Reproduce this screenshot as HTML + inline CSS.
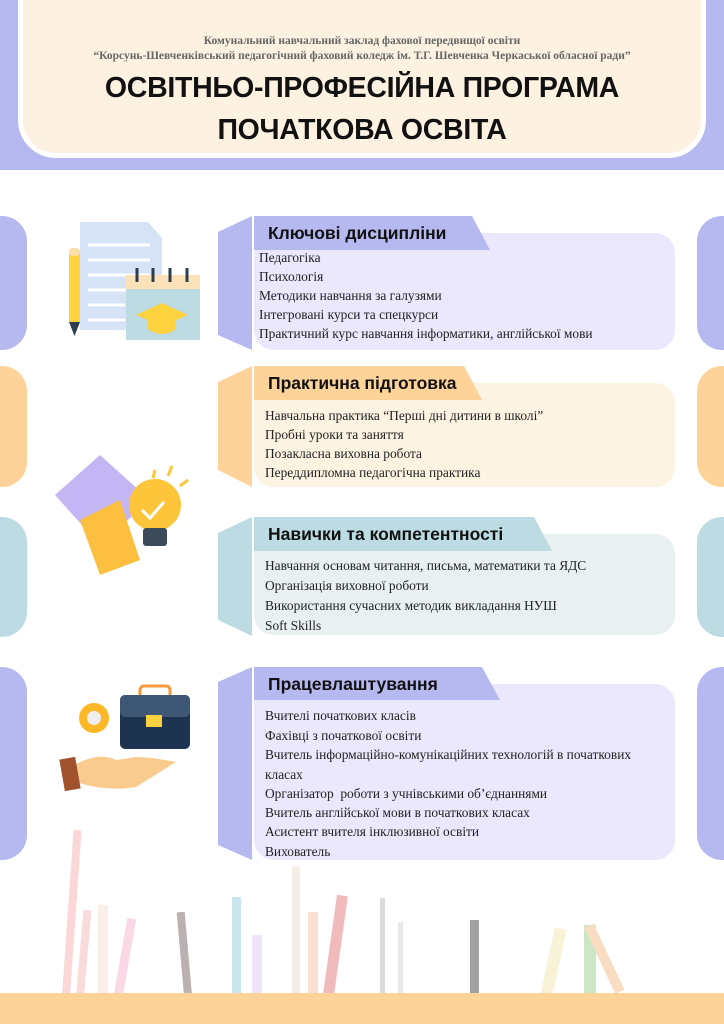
<!DOCTYPE html>
<html><head><meta charset="utf-8"><style>
*{margin:0;padding:0;box-sizing:border-box}
body{width:724px;height:1024px;position:relative;background:#fff;overflow:hidden;font-family:"Liberation Serif",serif}
.a{position:absolute}
.hd{font-family:"Liberation Sans",sans-serif;font-weight:bold;color:#111}
.it{position:absolute;font-size:13.4px;color:#222;white-space:nowrap;line-height:14px}
.tab{position:absolute;font-family:"Liberation Sans",sans-serif;font-weight:bold;font-size:17.5px;color:#111;padding-left:12px;line-height:34px}
</style></head><body>
<div class="a" style="left:0;top:0;width:724px;height:170px;background:#b6b8f0"></div>
<div class="a" style="left:18px;top:-10px;width:688px;height:168px;background:#fdf2e2;border:5px solid #fff;border-radius:0 0 38px 38px"></div>
<div class="a" style="left:0;top:34px;width:724px;text-align:center;font-size:11.5px;font-weight:bold;color:#666;line-height:15px">Комунальний навчальний заклад фахової передвищої освіти<br>“Корсунь-Шевченківський педагогічний фаховий коледж ім. Т.Г. Шевченка Черкаської обласної ради”</div>
<div class="a hd" style="left:0;top:67px;width:724px;text-align:center;font-size:28.5px;line-height:42px;letter-spacing:-0.3px">ОСВІТНЬО-ПРОФЕСІЙНА ПРОГРАМА<br>ПОЧАТКОВА ОСВІТА</div>

<svg class="a" style="left:0;top:0" width="724" height="1024">
<rect x="-30" y="216" width="57" height="134" rx="25" fill="#b6b8f0"/><rect x="697" y="216" width="57" height="134" rx="25" fill="#b6b8f0"/>
<rect x="-30" y="366" width="57" height="121" rx="25" fill="#fdd39a"/><rect x="697" y="366" width="57" height="121" rx="25" fill="#fdd39a"/>
<rect x="-30" y="517" width="57" height="120" rx="25" fill="#bcdbe2"/><rect x="697" y="517" width="57" height="120" rx="25" fill="#bcdbe2"/>
<rect x="-30" y="667" width="57" height="193" rx="25" fill="#b6b8f0"/><rect x="697" y="667" width="57" height="193" rx="25" fill="#b6b8f0"/>
<polygon points="218,232 252,216 252,350 218,335" fill="#b6b8f0"/>
<rect x="254" y="233" width="421" height="117" rx="20" fill="#ebe7fc"/>
<polygon points="254,216 472,216 490,250 254,250" fill="#b6b8f0"/>
<polygon points="218,382 252,366 252,487 218,470" fill="#fdd39a"/>
<rect x="254" y="383" width="421" height="104" rx="20" fill="#fdf3e3"/>
<polygon points="254,366 464,366 482,400 254,400" fill="#fdd39a"/>
<polygon points="218,533 252,517 252,636 218,620" fill="#bcdbe2"/>
<rect x="254" y="534" width="421" height="101" rx="20" fill="#e9f0f2"/>
<polygon points="254,517 534,517 552,551 254,551" fill="#bcdbe2"/>
<polygon points="218,682 252,667 252,860 218,845" fill="#b6b8f0"/>
<rect x="254" y="684" width="421" height="176" rx="20" fill="#ebe7fc"/>
<polygon points="254,667 482,667 500,700 254,700" fill="#b6b8f0"/>
<polygon points="80,222 148,222 162,238 162,330 80,330" fill="#d6e2f5"/>
<g stroke="#fff" stroke-width="3"><line x1="88" y1="245" x2="150" y2="245"/><line x1="88" y1="260" x2="150" y2="260"/><line x1="88" y1="275" x2="150" y2="275"/><line x1="88" y1="290" x2="130" y2="290"/><line x1="88" y1="305" x2="125" y2="305"/><line x1="88" y1="320" x2="125" y2="320"/></g>
<rect x="69" y="250" width="11" height="72" fill="#fcd23f"/><rect x="69" y="248" width="11" height="8" rx="4" fill="#fbe0a6"/><polygon points="69,322 80,322 74.5,336" fill="#2c3e50"/>
<rect x="126" y="280" width="74" height="60" fill="#bcdbe2"/><rect x="126" y="275" width="74" height="14" fill="#fde1b8"/>
<g stroke="#2c3e50" stroke-width="3"><line x1="137" y1="268" x2="137" y2="282"/><line x1="153" y1="268" x2="153" y2="282"/><line x1="170" y1="268" x2="170" y2="282"/><line x1="187" y1="268" x2="187" y2="282"/></g>
<polygon points="162,303 188,315 162,326 136,315" fill="#fcd23f"/><path d="M148,319 v10 q14,10 28,0 v-10z" fill="#fcd23f"/>
<polygon points="55,495 100,455 150,500 100,545" fill="#c4b5f5"/>
<polygon points="80,520 120,500 140,560 100,575" fill="#fcbf3f"/>
<circle cx="155" cy="505" r="26" fill="#fcc53a"/><rect x="143" y="528" width="24" height="18" rx="3" fill="#3c4a5a"/>
<path d="M142,510 l8,8 l14,-16" stroke="#fff" stroke-width="3" fill="none"/>
<g stroke="#fcc53a" stroke-width="3"><line x1="155" y1="470" x2="153" y2="478"/><line x1="172" y1="466" x2="168" y2="476"/><line x1="188" y1="480" x2="180" y2="486"/></g>
<rect x="140" y="686" width="30" height="16" rx="4" fill="none" stroke="#f79a3c" stroke-width="3"/>
<rect x="120" y="695" width="70" height="54" rx="5" fill="#1e3350"/><rect x="120" y="695" width="70" height="22" rx="5" fill="#3d5775"/>
<rect x="146" y="715" width="16" height="12" fill="#fcd23f"/>
<circle cx="94" cy="718" r="15" fill="#fcb827"/><circle cx="94" cy="718" r="7" fill="#eee"/>
<path d="M66,770 q30,-20 50,-10 l20,-3 q15,0 40,5 l-40,25 q-30,5 -60,-5z" fill="#f9cb8e"/>
<rect x="62" y="758" width="16" height="32" fill="#a0522d" transform="rotate(-10 70 774)"/>
<g opacity="0.45">
<rect x="80" y="910" width="8" height="85" fill="#f5b1b1" transform="rotate(5 84 950)"/>
<rect x="68" y="830" width="8" height="165" fill="#f7a7a7" transform="rotate(4 72 910)"/>
<rect x="98" y="905" width="10" height="90" fill="#f3dccb"/>
<rect x="120" y="918" width="9" height="77" fill="#f4a9c6" transform="rotate(10 124 960)"/>
<rect x="180" y="912" width="8" height="83" fill="#6a5554" transform="rotate(-5 184 950)"/>
<rect x="232" y="897" width="9" height="98" fill="#8ac9dc"/>
<rect x="252" y="935" width="10" height="60" fill="#d9c4f1"/>
<rect x="292" y="867" width="8" height="128" fill="#e8dac6"/>
<rect x="308" y="912" width="10" height="83" fill="#f6b79a"/>
<rect x="330" y="895" width="11" height="100" fill="#e36b6b" transform="rotate(8 335 945)"/>
<rect x="380" y="898" width="5" height="97" fill="#b0b0b0"/>
<rect x="398" y="922" width="5" height="73" fill="#cfcfcf"/>
<rect x="470" y="920" width="9" height="75" fill="#333"/>
<rect x="548" y="928" width="12" height="67" fill="#f0e3a8" transform="rotate(12 554 960)"/>
<rect x="584" y="925" width="12" height="70" fill="#8fcc7c"/>
<rect x="600" y="922" width="10" height="73" fill="#f0b67b" transform="rotate(-25 605 960)"/>
</g>
<rect x="0" y="993" width="724" height="31" fill="#fdd39a"/>
</svg>

<div class="tab" style="left:256px;top:216px">Ключові дисципліни</div>
<div class="it" style="left:259px;top:251px">Педагогіка</div>
<div class="it" style="left:259px;top:270px">Психологія</div>
<div class="it" style="left:259px;top:289px">Методики навчання за галузями</div>
<div class="it" style="left:259px;top:308px">Інтегровані курси та спецкурси</div>
<div class="it" style="left:259px;top:327px">Практичний курс навчання інформатики, англійської мови</div>

<div class="tab" style="left:256px;top:366px">Практична підготовка</div>
<div class="it" style="left:265px;top:409px">Навчальна практика “Перші дні дитини в школі”</div>
<div class="it" style="left:265px;top:428px">Пробні уроки та заняття</div>
<div class="it" style="left:265px;top:447px">Позакласна виховна робота</div>
<div class="it" style="left:265px;top:466px">Переддипломна педагогічна практика</div>

<div class="tab" style="left:256px;top:517px">Навички та компетентності</div>
<div class="it" style="left:265px;top:559px">Навчання основам читання, письма, математики та ЯДС</div>
<div class="it" style="left:265px;top:579px">Організація виховної роботи</div>
<div class="it" style="left:265px;top:599px">Використання сучасних методик викладання НУШ</div>
<div class="it" style="left:265px;top:619px">Soft Skills</div>

<div class="tab" style="left:256px;top:667px">Працевлаштування</div>
<div class="it" style="left:265px;top:709px">Вчителі початкових класів</div>
<div class="it" style="left:265px;top:729px">Фахівці з початкової освіти</div>
<div class="it" style="left:265px;top:748px">Вчитель інформаційно-комунікаційних технологій в початкових</div>
<div class="it" style="left:265px;top:768px">класах</div>
<div class="it" style="left:265px;top:787px">Організатор&nbsp; роботи з учнівськими об’єднаннями</div>
<div class="it" style="left:265px;top:806px">Вчитель англійської мови в початкових класах</div>
<div class="it" style="left:265px;top:825px">Асистент вчителя інклюзивної освіти</div>
<div class="it" style="left:265px;top:845px">Вихователь</div>
</body></html>
